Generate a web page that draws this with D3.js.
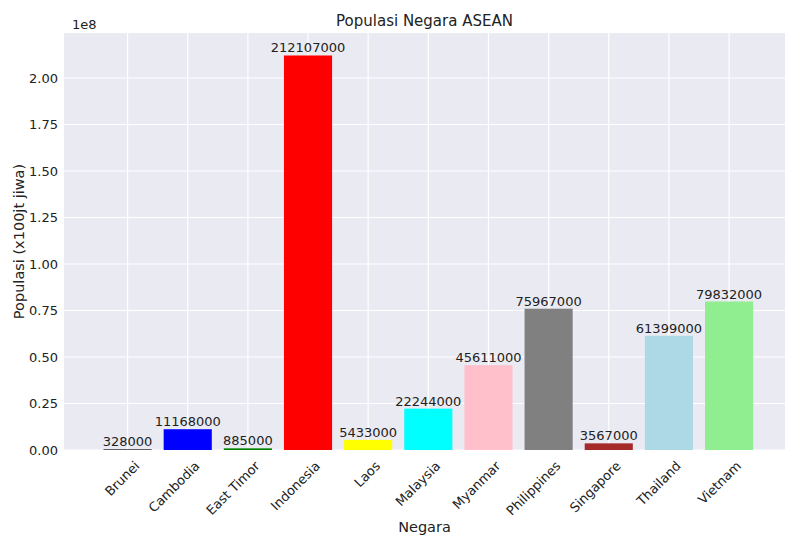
<!DOCTYPE html>
<html><head><meta charset="utf-8">
<script src="https://cdn.jsdelivr.net/npm/d3@7"></script>
<style>body{margin:0;background:#fff}</style>
</head><body>
<svg id="chart" width="800" height="550"></svg>
<script>
var countries = ["Brunei","Cambodia","East Timor","Indonesia","Laos","Malaysia","Myanmar","Philippines","Singapore","Thailand","Vietnam"];
var population = [328000,11168000,885000,212107000,5433000,22244000,45611000,75967000,3567000,61399000,79832000];
var colors = ["black","blue","green","red","yellow","cyan","pink","gray","brown","lightblue","lightgreen"];
var yTicks = [0,0.25e8,0.5e8,0.75e8,1e8,1.25e8,1.5e8,1.75e8,2e8];

var plotLeft = 64, plotRight = 785, plotTop = 33, plotBottom = 450;
var font = "'DejaVu Sans', sans-serif";
var svg = d3.select("#chart");

var x = d3.scaleLinear().domain([-1.057, 10.93]).range([plotLeft, plotRight]);
var y = d3.scaleLinear().domain([0, 2.242e8]).range([plotBottom, plotTop]);
var bw = x(0.4) - x(-0.4);

svg.append("rect").attr("x", plotLeft).attr("y", plotTop)
.attr("width", plotRight - plotLeft).attr("height", plotBottom - plotTop)
.style("fill", "#eaeaf2");

// grid
svg.selectAll(".gy").data(yTicks).enter().append("line")
.attr("x1", plotLeft).attr("x2", plotRight)
.attr("y1", function (d) { return y(d); }).attr("y2", function (d) { return y(d); })
.style("stroke", "#fff").style("stroke-width", 1.2);
svg.selectAll(".gx").data(countries).enter().append("line")
.attr("x1", function (d, i) { return x(i); }).attr("x2", function (d, i) { return x(i); })
.attr("y1", plotTop).attr("y2", plotBottom)
.style("stroke", "#fff").style("stroke-width", 1.2);

svg.selectAll(".bar").data(population).enter().append("rect")
.attr("x", function (d, i) { return x(i) - bw / 2; })
.attr("y", function (d) { return y(d); })
.attr("width", bw)
.attr("height", function (d) { return plotBottom - y(d); })
.style("fill", function (d, i) { return colors[i]; });

svg.selectAll(".lbl").data(population).enter().append("text")
.attr("x", function (d, i) { return x(i); })
.attr("y", function (d) { return y(d) - 3; })
.style("text-anchor", "middle").style("font-family", font).style("font-size", "13px")
.style("fill", "#222").text(function (d) { return d; });

// y ticks
svg.selectAll(".yt").data(yTicks).enter().append("text")
.attr("x", plotLeft - 6).attr("y", function (d) { return y(d) + 4.5; })
.style("text-anchor", "end").style("font-family", font).style("font-size", "13px")
.style("fill", "#222").text(function (d) { return (d / 1e8).toFixed(2); });
svg.append("text").attr("x", plotLeft + 8).attr("y", 29)
.style("font-family", font).style("font-size", "13px").style("fill", "#222").text("1e8");

// x ticks
svg.selectAll(".xt").data(countries).enter().append("text")
.attr("transform", function (d, i) { return "translate(" + (x(i) + 6) + "," + (plotBottom + 10) + ") rotate(-45)"; })
.style("text-anchor", "end").style("dominant-baseline", "hanging")
.style("font-family", font).style("font-size", "13px").style("fill", "#222")
.text(function (d) { return d; });

svg.append("text").attr("x", (plotLeft + plotRight) / 2).attr("y", 26)
.style("text-anchor", "middle").style("font-family", font).style("font-size", "15px")
.style("fill", "#222").text("Populasi Negara ASEAN");
svg.append("text").attr("x", (plotLeft + plotRight) / 2).attr("y", 532)
.style("text-anchor", "middle").style("font-family", font).style("font-size", "14.5px")
.style("fill", "#222").text("Negara");
svg.append("text").attr("transform", "translate(24," + ((plotTop + plotBottom) / 2) + ") rotate(-90)")
.style("text-anchor", "middle").style("font-family", font).style("font-size", "14.5px")
.style("fill", "#222").text("Populasi (x100jt jiwa)");
</script>
</body></html>
